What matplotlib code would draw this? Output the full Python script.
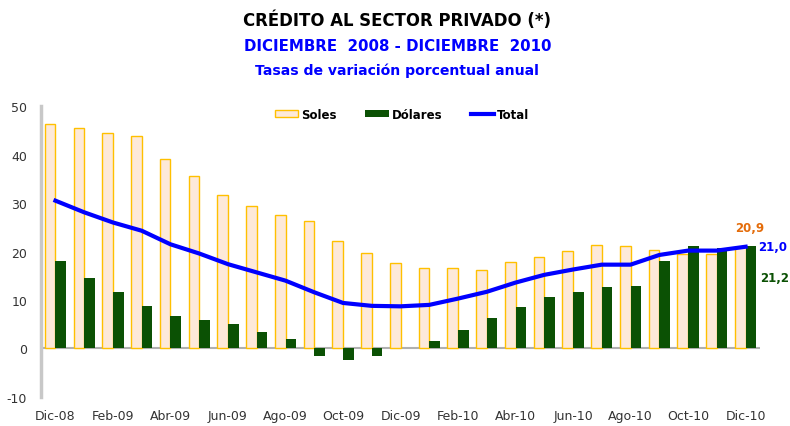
import matplotlib.pyplot as plt
import numpy as np

# ---------------------------------------------------------------
# data: credito al sector privado, tasas de variacion anual (%)

months = ["Dic-08", "Ene-09", "Feb-09", "Mar-09", "Abr-09", "May-09", "Jun-09",
          "Jul-09", "Ago-09", "Set-09", "Oct-09", "Nov-09", "Dic-09", "Ene-10",
          "Feb-10", "Mar-10", "Abr-10", "May-10", "Jun-10", "Jul-10", "Ago-10",
          "Set-10", "Oct-10", "Nov-10", "Dic-10"]

soles = [46.4, 45.6, 44.4, 43.8, 39.2, 35.6, 31.6, 29.4, 27.5, 26.4, 22.2, 19.8,
         17.6, 16.7, 16.7, 16.3, 17.8, 18.8, 20.2, 21.4, 21.2, 20.4, 19.5, 19.4, 20.9]

dolares = [18.0, 14.5, 11.6, 8.8, 6.8, 5.9, 5.0, 3.5, 2.0, -1.5, -2.4, -1.5,
           0.0, 1.5, 3.8, 6.3, 8.5, 10.6, 11.7, 12.6, 12.8, 18.0, 21.1, 20.7, 21.2]

total = [30.5, 28.1, 26.0, 24.3, 21.5, 19.6, 17.4, 15.7, 14.0, 11.6, 9.4, 8.8,
         8.7, 9.0, 10.3, 11.7, 13.6, 15.2, 16.3, 17.3, 17.3, 19.3, 20.2, 20.2, 21.0]

# ---------------------------------------------------------------

plt.rcParams["axes.unicode_minus"] = False

c_soles_fill = "#FDE9D9"
c_soles_edge = "#FFC000"
c_dol = "#0B5104"
c_total = "#0000FF"

x = np.arange(len(months))
w = 0.37

fig = plt.figure(figsize=(7.9, 4.27), dpi=100)
ax = fig.add_axes([0.052, 0.068, 0.910, 0.681])

b1 = ax.bar(x - w / 2, soles, w, color=c_soles_fill, edgecolor=c_soles_edge,
            linewidth=1.0, label="Soles", zorder=2)
b2 = ax.bar(x + w / 2, dolares, w, color=c_dol, linewidth=0,
            label="Dólares", zorder=2)
l1, = ax.plot(x, total, color=c_total, lw=3, label="Total", zorder=3)

ax.axhline(0, color="#b0b0b0", lw=1.5, zorder=1)

ax.set_xlim(-0.5, 24.5)
ax.set_ylim(-10, 50)
ax.set_yticks(range(-10, 51, 10))
ax.set_xticks(x[::2])
ax.set_xticklabels(months[::2])
ax.tick_params(axis="both", length=0, labelsize=9, labelcolor="#333333")
ax.tick_params(axis="x", pad=9)
ax.tick_params(axis="y", pad=10)

for s in ["top", "right", "bottom"]:
    ax.spines[s].set_visible(False)
ax.spines["left"].set_color("#c8c8c8")
ax.spines["left"].set_linewidth(2.5)

# end labels
ax.text(23.63, 25.0, "20,9", color="#E46C0A", fontsize=8.5, fontweight="bold",
        ha="left", va="center", clip_on=False)
ax.text(24.42, 21.0, "21,0", color=c_total, fontsize=8.5, fontweight="bold",
        ha="left", va="center", clip_on=False)
ax.text(24.52, 14.7, "21,2", color=c_dol, fontsize=8.5, fontweight="bold",
        ha="left", va="center", clip_on=False)

ax.legend([b1, b2, l1], ["Soles", "Dólares", "Total"],
          loc="upper center", bbox_to_anchor=(0.502, 1.03), ncol=3, frameon=False,
          prop={"weight": "bold", "size": 8.5}, handlelength=2.0,
          handleheight=0.55, columnspacing=2.4, handletextpad=0.25)

fig.text(0.503, 0.952, "CRÉDITO AL SECTOR PRIVADO (*)", ha="center", va="center",
         fontsize=11.9, fontweight="bold", color="black")
fig.text(0.503, 0.890, "DICIEMBRE  2008 - DICIEMBRE  2010", ha="center",
         va="center", fontsize=10.8, fontweight="bold", color=c_total)
fig.text(0.503, 0.834, "Tasas de variación porcentual anual", ha="center",
         va="center", fontsize=10.1, fontweight="bold", color=c_total)

plt.savefig("out.png", dpi=100)
